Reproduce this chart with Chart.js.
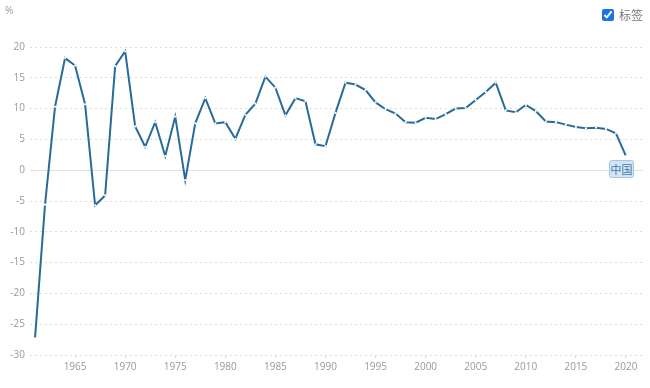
<!DOCTYPE html>
<html>
<head>
<meta charset="utf-8">
<script src="https://cdn.jsdelivr.net/npm/chart.js@4"></script>
<style>
  html, body { margin: 0; padding: 0; background: #fff; }
  #wrap { position: relative; width: 650px; height: 388px; }
  #legendBox {
    position: absolute; left: 602px; top: 6px;
    font-family: "Noto Sans CJK SC", sans-serif; font-size: 12px; color: #777;
    display: flex; align-items: center;
  }
  #legendBox input { margin: 0 5px 0 0; width: 12px; height: 12px; accent-color: #1a73e8; }
</style>
</head>
<body>
<div id="wrap">
  <canvas id="growthChart" width="650" height="388"></canvas>
  <label id="legendBox"><input type="checkbox" checked>标签</label>
</div>
<script>
// years and growth values (%)
const years = [];
for (let y = 1961; y <= 2020; y++) years.push(y);

const growth = [
    -27.3, -5.6, 10.3, 18.2, 17.0, 10.7, -5.7, -4.1, 16.9, 19.3,
    7.1, 3.8, 7.8, 2.3, 8.7, -1.6, 7.6, 11.7, 7.6, 7.8,
    5.1, 9.0, 10.8, 15.2, 13.4, 8.9, 11.7, 11.2, 4.2, 3.9,
    9.3, 14.2, 13.9, 13.0, 11.0, 9.9, 9.2, 7.8, 7.7, 8.5,
    8.3, 9.1, 10.0, 10.1, 11.4, 12.7, 14.2, 9.7, 9.4, 10.6,
    9.6, 7.9, 7.8, 7.4, 7.0, 6.8, 6.9, 6.7, 6.0, 2.3
];

const xTicks = [1965, 1970, 1975, 1980, 1985, 1990, 1995, 2000, 2005, 2010, 2015, 2020];
const seriesLabel = '中国';
const unitLabel = '%';

const points = years.map((y, i) => ({ x: y, y: growth[i] }));

// draws the "%" unit and the end label box
const extras = {
    id: 'extras',
    afterDatasetsDraw(chart) {
        const ctx = chart.ctx;
        ctx.save();
        ctx.font = '10px "Open Sans", sans-serif';
        ctx.fillStyle = '#999';
        ctx.textAlign = 'left';
        ctx.textBaseline = 'middle';
        ctx.fillText(unitLabel, 5, 11);

        const last = points[points.length - 1];
        const px = chart.scales.x.getPixelForValue(last.x);
        const py = chart.scales.y.getPixelForValue(last.y);
        ctx.font = '11px "Noto Sans CJK SC", sans-serif';
        const w = ctx.measureText(seriesLabel).width + 2;
        const h = 17;
        const bx = px - w / 2 - 5, by = py + 4;
        ctx.fillStyle = '#d3e4f3';
        ctx.strokeStyle = '#a7c5e0';
        ctx.lineWidth = 1;
        ctx.beginPath();
        ctx.roundRect(bx + 0.5, by + 0.5, w, h, 2);
        ctx.fill();
        ctx.stroke();
        ctx.fillStyle = '#3b78ad';
        ctx.textAlign = 'center';
        ctx.fillText(seriesLabel, bx + w / 2 + 0.5, by + h / 2 + 1);
        ctx.restore();
    }
};

new Chart(document.getElementById('growthChart'), {
    type: 'line',
    data: {
        datasets: [{
            label: seriesLabel,
            data: points,
            borderColor: '#296b98',
            borderWidth: 2,
            pointRadius: 1.1,
            pointBackgroundColor: '#ffffff',
            pointBorderWidth: 0,
            tension: 0
        }]
    },
    options: {
        responsive: false,
        animation: false,
        layout: { padding: { top: 47, right: 7, left: 0, bottom: 0 } },
        plugins: { legend: { display: false }, tooltip: { enabled: false } },
        scales: {
            x: {
                type: 'linear',
                min: 1960.5,
                max: 2021.7,
                afterBuildTicks: (axis) => { axis.ticks = xTicks.map(v => ({ value: v })); },
                afterFit: (axis) => { axis.height = 33; },
                border: { display: false },
                grid: { drawOnChartArea: false, tickLength: 3, color: '#d8d8d8' },
                ticks: {
                    color: '#999',
                    font: { family: '"Open Sans", sans-serif', size: 10 },
                    padding: 3,
                    maxRotation: 0,
                    callback: (v) => String(v)
                }
            },
            y: {
                min: -30,
                max: 20,
                afterFit: (axis) => { axis.width = 30; },
                border: {
                    display: false,
                    dash: (c) => (c.tick && c.tick.value === 0) ? [] : [2, 3]
                },
                grid: {
                    drawTicks: false,
                    color: (c) => c.tick.value === 0 ? '#e2e2e2' : '#dcdcdc',
                    lineWidth: 1
                },
                ticks: {
                    stepSize: 5,
                    color: '#999',
                    font: { family: '"Open Sans", sans-serif', size: 10 },
                    padding: 5
                }
            }
        }
    },
    plugins: [extras]
});
</script>
</body>
</html>
